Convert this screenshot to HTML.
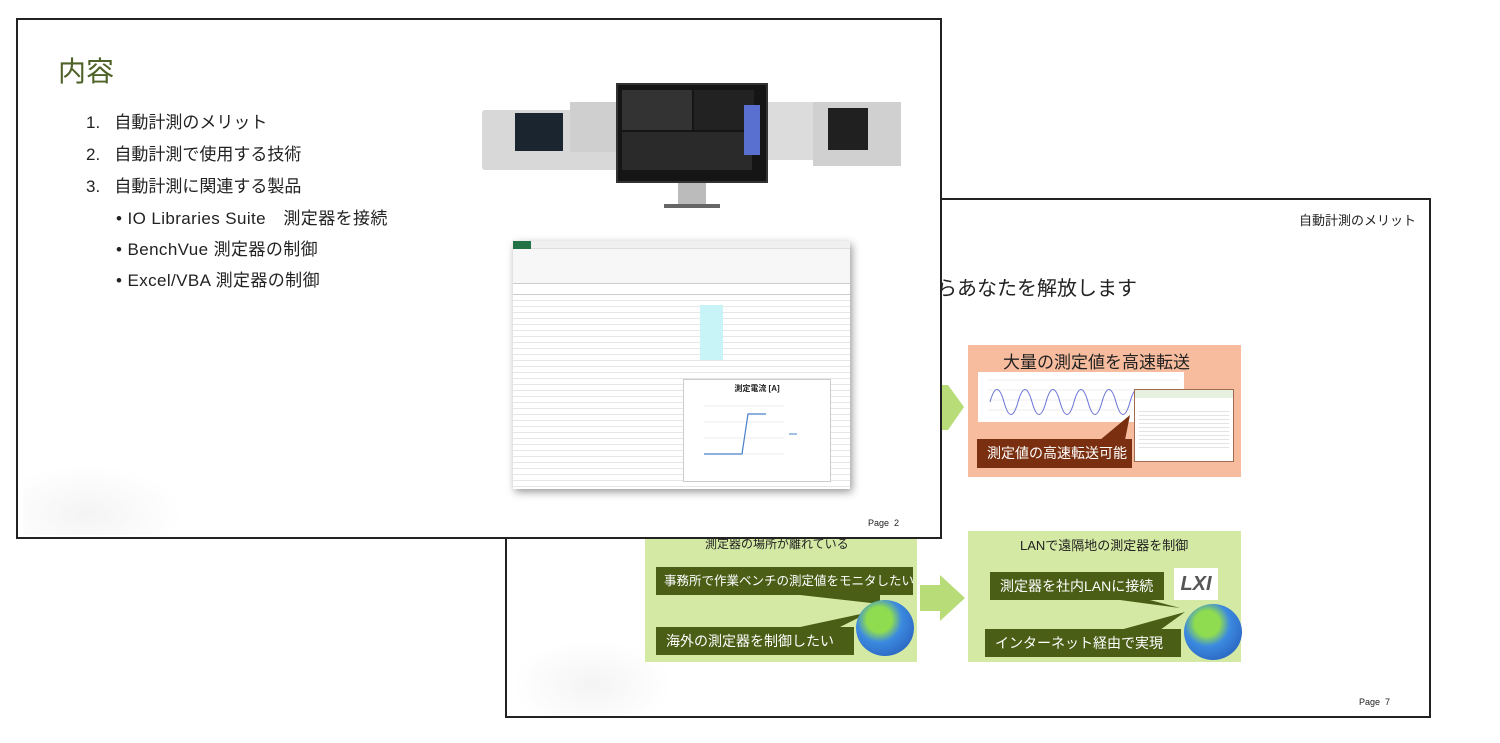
<!DOCTYPE html>
<html><head><meta charset="utf-8"><style>
*{margin:0;padding:0;box-sizing:border-box}
body{width:1500px;height:743px;background:#fff;position:relative;overflow:hidden;font-family:"Liberation Sans","Noto Sans CJK JP",sans-serif;color:#222}
.a{position:absolute}
.slide{position:absolute;background:#fff;border:2px solid #222;overflow:hidden}
.t{position:absolute;white-space:nowrap}
.dg{background:#4a5e16;color:#fff;font-size:14px;padding:0 10px;line-height:28px;position:absolute;white-space:nowrap;overflow:hidden}
</style></head><body>

<div class="slide" style="left:505px;top:198px;width:926px;height:520px">
  <div class="t" style="left:792px;top:10px;font-size:13px">自動計測のメリット</div>
  <div class="t" style="left:430px;top:72px;font-size:20px">らあなたを解放します</div>
  <div class="a" style="left:5px;top:440px;width:160px;height:75px;background:radial-gradient(ellipse at 50% 60%,#f4f4f4,#fff 70%)"></div>
  <div class="t" style="left:852px;top:497px;font-size:9px">Page&nbsp; 7</div>
</div>
<svg class="a" style="left:0;top:0" width="1500" height="743">
  <polygon points="940,385 948,385 964,407 948,430 940,430" fill="#b8dc78"/>
  <polygon points="920,585 940,585 940,575 965,598 940,621 940,611 920,611" fill="#b8dc78"/>
</svg>
<div class="a" style="left:968px;top:345px;width:273px;height:132px;background:#f7bc9e"></div>
<div class="t" style="left:1003px;top:348px;font-size:17px">大量の測定値を高速転送</div>
<div class="a" style="left:978px;top:372px;width:206px;height:50px;background:#fff">
<svg width="206" height="50"><g stroke="#ddd" stroke-width=".5"><line x1="10" y1="8" x2="200" y2="8"/><line x1="10" y1="18" x2="200" y2="18"/><line x1="10" y1="28" x2="200" y2="28"/><line x1="10" y1="38" x2="200" y2="38"/></g>
<path d="M12,30 Q19,5 26,30 T40,30 T54,30 T68,30 T82,30 T96,30 T110,30 T124,30 T138,30 T152,30 T166,30 T180,30 T194,30" stroke="#6a72d8" fill="none" stroke-width="1"/></svg></div>
<div class="a" style="left:1134px;top:389px;width:100px;height:73px;background:#fff;border:1px solid #a06a50">
  <div style="height:8px;background:#e8f0e0"></div>
  <div style="margin:10px 4px;height:40px;background:repeating-linear-gradient(#fff 0 3px,#e4e4e4 3px 4px)"></div>
</div>
<svg class="a" style="left:0;top:0" width="1500" height="743"><polygon points="1100,440 1130,415 1125,440" fill="#7a3010"/></svg>
<div class="dg" style="left:977px;top:439px;background:#7a3010;font-size:14px;line-height:29px;width:155px">測定値の高速転送可能</div>

<div class="a" style="left:645px;top:538px;width:272px;height:124px;background:#d4eaa4"></div>
<div class="t" style="left:705px;top:535px;font-size:12px">測定器の場所が離れている</div>
<div class="dg" style="left:656px;top:567px;width:257px;font-size:12.5px;padding:0 8px">事務所で作業ベンチの測定値をモニタしたい</div>
<div class="dg" style="left:656px;top:627px;width:198px">海外の測定器を制御したい</div>
<svg class="a" style="left:0;top:0" width="1500" height="743">
  <polygon points="800,595 880,595 880,604" fill="#4a5e16"/>
  <polygon points="800,627 870,612 840,627" fill="#4a5e16"/>
</svg>
<div class="a" style="left:856px;top:600px;width:58px;height:56px;border-radius:50%;background:radial-gradient(circle at 40% 35%,#8fdc50 0 25%,#3c8ae0 45%,#2050b0)"></div>

<div class="a" style="left:968px;top:531px;width:273px;height:131px;background:#d4eaa4"></div>
<div class="t" style="left:1020px;top:535px;font-size:13px">LANで遠隔地の測定器を制御</div>
<div class="dg" style="left:990px;top:572px;width:174px;font-size:14px">測定器を社内LANに接続</div>
<div class="dg" style="left:985px;top:629px;width:196px;font-size:14px">インターネット経由で実現</div>
<div class="a" style="left:1174px;top:568px;width:44px;height:32px;background:#fff;font:italic bold 20px 'Liberation Sans';color:#555;text-align:center;line-height:32px">LXI</div>
<svg class="a" style="left:0;top:0" width="1500" height="743">
  <polygon points="1120,600 1180,608 1150,600" fill="#4a5e16"/>
  <polygon points="1120,630 1185,612 1160,630" fill="#4a5e16"/>
</svg>
<div class="a" style="left:1184px;top:604px;width:58px;height:56px;border-radius:50%;background:radial-gradient(circle at 40% 35%,#8fdc50 0 25%,#3c8ae0 45%,#2050b0)"></div>

<div class="slide" style="left:16px;top:18px;width:926px;height:521px">
  <div class="t" style="left:40px;top:30px;font-size:28px;color:#4f6228">内容</div>
  <div class="t" style="left:68px;top:88px;font-size:17px">1.&nbsp;&nbsp; 自動計測のメリット</div>
  <div class="t" style="left:68px;top:120px;font-size:17px">2.&nbsp;&nbsp; 自動計測で使用する技術</div>
  <div class="t" style="left:68px;top:152px;font-size:17px">3.&nbsp;&nbsp; 自動計測に関連する製品</div>
  <div class="t" style="left:98px;top:184px;font-size:17px;letter-spacing:.4px">• IO Libraries Suite　測定器を接続</div>
  <div class="t" style="left:98px;top:215px;font-size:17px;letter-spacing:.4px">• BenchVue 測定器の制御</div>
  <div class="t" style="left:98px;top:246px;font-size:17px;letter-spacing:.4px">• Excel/VBA 測定器の制御</div>
  <div class="a" style="left:5px;top:445px;width:160px;height:70px;background:radial-gradient(ellipse at 40% 70%,#f4f4f4,#fff 70%)"></div>
  <div class="t" style="left:850px;top:498px;font-size:9px">Page&nbsp; 2</div>

  <div class="a" style="left:464px;top:90px;width:136px;height:60px;background:#d8d8d8;border-radius:3px"></div>
  <div class="a" style="left:497px;top:93px;width:48px;height:38px;background:#1a2530"></div>
  <div class="a" style="left:552px;top:82px;width:60px;height:50px;background:#cfcfcf"></div>
  <div class="a" style="left:745px;top:82px;width:70px;height:58px;background:#dcdcdc"></div>
  <div class="a" style="left:795px;top:82px;width:88px;height:64px;background:#d0d0d0"></div>
  <div class="a" style="left:810px;top:88px;width:40px;height:42px;background:#202020"></div>
  <div class="a" style="left:598px;top:63px;width:152px;height:100px;background:#151515;border:2px solid #333"></div>
  <div class="a" style="left:604px;top:70px;width:70px;height:40px;background:#333"></div>
  <div class="a" style="left:676px;top:70px;width:60px;height:40px;background:#222"></div>
  <div class="a" style="left:604px;top:112px;width:130px;height:38px;background:#2a2a2a"></div>
  <div class="a" style="left:726px;top:85px;width:16px;height:50px;background:#5a70d0"></div>
  <div class="a" style="left:660px;top:163px;width:28px;height:22px;background:#bbb"></div>
  <div class="a" style="left:646px;top:184px;width:56px;height:4px;background:#666"></div>

  <div class="a" style="left:495px;top:221px;width:337px;height:248px;background:#fff;box-shadow:2px 3px 8px #999;overflow:hidden">
    <div style="height:8px;background:#f0f0f0;border-bottom:1px solid #ddd"><div style="width:18px;height:8px;background:#217346"></div></div>
    <div style="height:35px;background:#f7f7f7;border-bottom:1px solid #ccc"></div>
    <div style="height:11px;border-bottom:1px solid #ccc"></div>
    <div style="height:194px;background:repeating-linear-gradient(#fff 0 5px,#e6e6e6 5px 6px)"></div>
    <div class="a" style="left:187px;top:64px;width:23px;height:55px;background:#c8f4f8"></div>
    <div class="a" style="left:170px;top:138px;width:148px;height:103px;background:#fff;border:1px solid #ccc">
      <div style="text-align:center;font-size:8px;font-weight:bold;margin-top:3px">測定電流 [A]</div>
      <svg width="148" height="90"><g stroke="#ddd" stroke-width=".5"><line x1="20" y1="12" x2="100" y2="12"/><line x1="20" y1="28" x2="100" y2="28"/><line x1="20" y1="44" x2="100" y2="44"/><line x1="20" y1="60" x2="100" y2="60"/></g><polyline points="20,60 58,60 64,20 82,20" fill="none" stroke="#4a80c8" stroke-width="1.2"/><line x1="105" y1="40" x2="113" y2="40" stroke="#4a80c8"/></svg>
    </div>
  </div>
</div>
</body></html>
